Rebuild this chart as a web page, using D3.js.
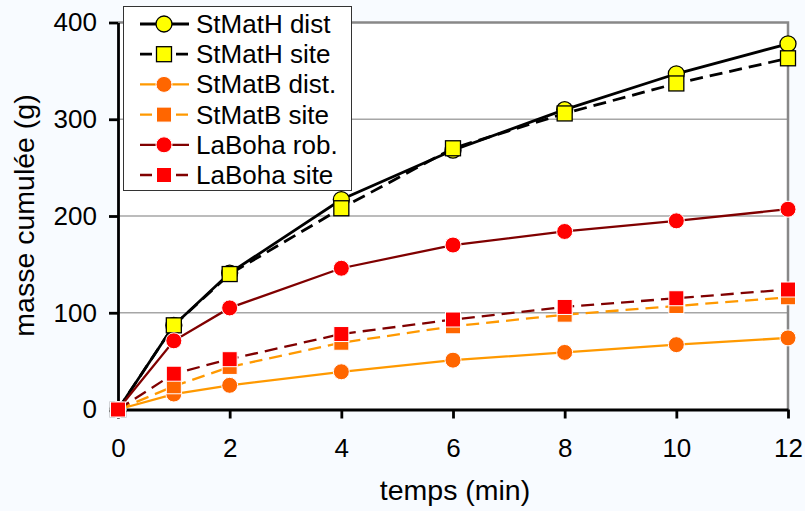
<!DOCTYPE html>
<html lang="fr">
<head>
<meta charset="UTF-8">
<title>masse cumulée</title>
<style>
  body { margin: 0; background: #f8fbff; }
  svg { display: block; }
  text { font-family: "Liberation Sans", Arial, sans-serif; fill: #000; }
</style>
</head>
<body>
<script src="https://d3js.org/d3.v7.min.js"></script>
<script>
// time points (min)
const temps = [0, 1, 2, 4, 6, 8, 10, 12];

// cumulative mass (g)
const stMatHDist = [0, 87, 141, 217, 268, 310, 347, 378];
const stMatHSite = [0, 87, 140, 208, 270, 306, 337, 363];
const stMatBDist = [0, 16, 25, 39, 51, 59, 67, 74];
const stMatBSite = [0, 24, 44, 69, 86, 98, 107, 116];
const laBohaRob  = [0, 71, 105, 146, 170, 184, 195, 207];
const laBohaSite = [0, 37, 52, 78, 93, 106, 115, 124];

const xTicks = [0, 2, 4, 6, 8, 10, 12];
const yTicks = [0, 100, 200, 300, 400];

const series = [
  {name: "StMatH dist",  values: stMatHDist, line: "#000", fill: "#ffff00", stroke: "#000", shape: "circle", dash: null, lw: 2.8},
  {name: "StMatH site",  values: stMatHSite, line: "#000", fill: "#ffff00", stroke: "#000", shape: "square", dash: "13,7", lw: 2.8},
  {name: "StMatB dist.", values: stMatBDist, line: "#ff9900", fill: "#ff6600", stroke: "#fff", shape: "circle", dash: null, lw: 2.3},
  {name: "StMatB site",  values: stMatBSite, line: "#ff9900", fill: "#ff6600", stroke: "#fff", shape: "square", dash: "13,7", lw: 2.3},
  {name: "LaBoha rob.",  values: laBohaRob,  line: "#800000", fill: "#ff0000", stroke: "#fff", shape: "circle", dash: null, lw: 2.3},
  {name: "LaBoha site",  values: laBohaSite, line: "#800000", fill: "#ff0000", stroke: "#fff", shape: "square", dash: "13,7", lw: 2.3}
];

const width = 805, height = 511;
const plotL = 118, plotR = 788, plotT = 22.5, plotB = 409.5;

const svg = d3.select("body").append("svg")
  .attr("width", width)
  .attr("height", height);

const x = d3.scaleLinear().domain([0, 12]).range([plotL, plotR]);
const y = d3.scaleLinear().domain([0, 400]).range([plotB, plotT]);

// plot area
svg.append("rect")
  .attr("x", plotL).attr("y", plotT)
  .attr("width", plotR - plotL).attr("height", plotB - plotT)
  .attr("fill", "#fff");

// gridlines
svg.append("g")
  .selectAll("line")
  .data(yTicks.filter(d => d > 0 && d < 400))
  .join("line")
  .attr("x1", plotL).attr("x2", plotR)
  .attr("y1", d => y(d)).attr("y2", d => y(d))
  .attr("stroke", "#a6a6a6").attr("stroke-width", 1.5);

// top and right border
svg.append("path")
  .attr("d", `M${plotL},${plotT}H${plotR}V${plotB}`)
  .attr("fill", "none")
  .attr("stroke", "#888").attr("stroke-width", 2.5);

// axes
const xAxis = svg.append("g")
  .attr("transform", `translate(0,${plotB})`)
  .call(d3.axisBottom(x).tickValues(xTicks).tickSize(9).tickPadding(20).tickSizeOuter(0));
const yAxis = svg.append("g")
  .attr("transform", `translate(${plotL},0)`)
  .call(d3.axisLeft(y).tickValues(yTicks).tickSize(9).tickPadding(12).tickSizeOuter(0));

[xAxis, yAxis].forEach(a => {
  a.select(".domain").attr("stroke", "#000").attr("stroke-width", 2.8);
  a.selectAll(".tick line").attr("stroke", "#000").attr("stroke-width", 2.8);
  a.selectAll(".tick text")
    .attr("font-family", "Liberation Sans, Arial, sans-serif")
    .attr("font-size", 26)
    .attr("fill", "#000");
});

// axis titles
svg.append("text")
  .attr("x", 455).attr("y", 500)
  .attr("text-anchor", "middle")
  .attr("font-size", 28.5)
  .text("temps (min)");

svg.append("text")
  .attr("transform", "translate(34,215.5) rotate(-90)")
  .attr("text-anchor", "middle")
  .attr("font-size", 28.5)
  .text("masse cumulée (g)");

const line = d3.line().x(d => x(d[0])).y(d => y(d[1]));

function marker(sel, s) {
  if (s.shape === "circle") {
    sel.append("circle").attr("r", 8);
  } else {
    sel.append("rect").attr("x", -7.5).attr("y", -7.5).attr("width", 15).attr("height", 15);
  }
  sel.selectAll("circle, rect")
    .attr("fill", s.fill)
    .attr("stroke", s.stroke)
    .attr("stroke-width", s.stroke === "#fff" ? 1 : 1.3);
}

// series, drawn in legend order
series.forEach(s => {
  const pts = temps.map((t, i) => [t, s.values[i]]);
  const g = svg.append("g");
  g.append("path")
    .datum(pts)
    .attr("d", line)
    .attr("fill", "none")
    .attr("stroke", s.line)
    .attr("stroke-width", s.lw)
    .attr("stroke-dasharray", s.dash);
  g.selectAll("g")
    .data(pts)
    .join("g")
    .attr("transform", d => `translate(${x(d[0])},${y(d[1])})`)
    .each(function() { marker(d3.select(this), s); });
});

// legend
const legend = svg.append("g");
legend.append("rect")
  .attr("x", 123.5).attr("y", 6.5)
  .attr("width", 228).attr("height", 184)
  .attr("fill", "#fff")
  .attr("stroke", "#333").attr("stroke-width", 1);

const rows = legend.selectAll("g.row")
  .data(series)
  .join("g")
  .attr("class", "row")
  .attr("transform", (d, i) => `translate(0,${24 + i * 30.2})`);

rows.append("line")
  .attr("x1", 140).attr("x2", 189)
  .attr("stroke", d => d.line)
  .attr("stroke-width", d => d.lw)
  .attr("stroke-dasharray", d => d.dash ? "12,6" : null);

rows.each(function(d) {
  const m = d3.select(this).append("g").attr("transform", "translate(164,0)");
  marker(m, d);
});

rows.append("text")
  .attr("x", 196).attr("y", 9)
  .attr("font-size", 26)
  .text(d => d.name);
</script>
</body>
</html>
